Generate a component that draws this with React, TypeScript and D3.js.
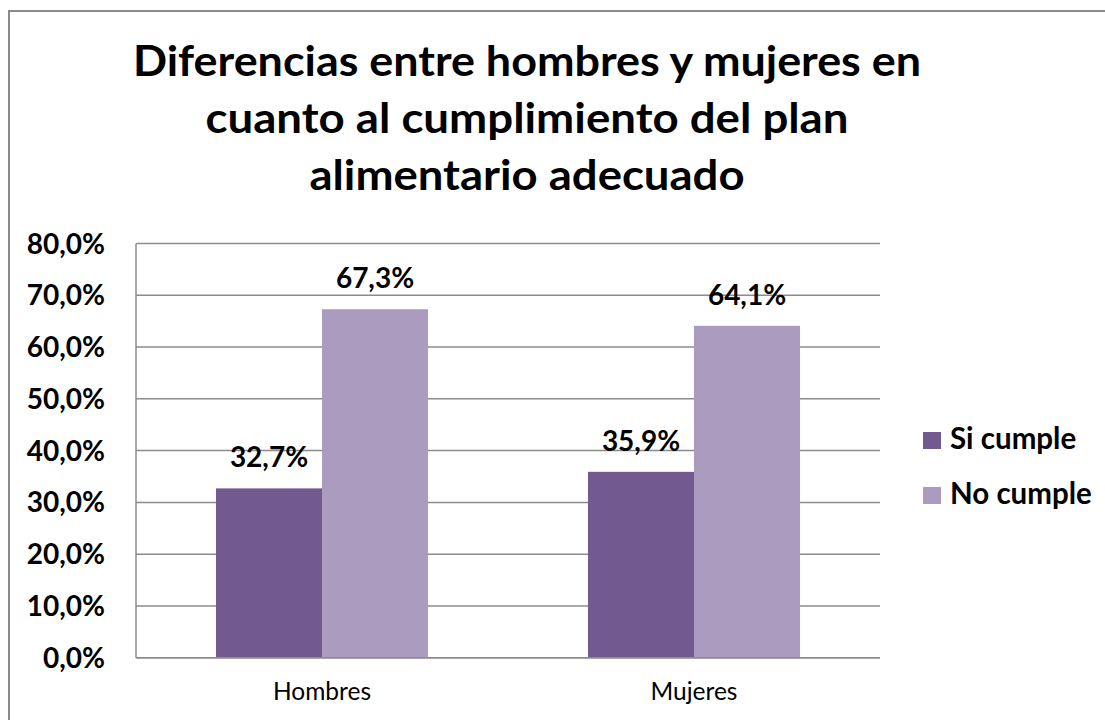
import React from "react";
import * as d3 from "d3";

const categories = ["Hombres", "Mujeres"];
const seriesNames = ["Si cumple", "No cumple"];
const siCumple = [0.327, 0.359];
const noCumple = [0.673, 0.641];
const yTicks = [0, 0.1, 0.2, 0.3, 0.4, 0.5, 0.6, 0.7, 0.8];
const titleLines = [
  "Diferencias entre hombres y mujeres en",
  "cuanto al cumplimiento del plan",
  "alimentario adecuado",
];
const colors = ["#725990", "#AA9BBF"];

const W = 1105;
const H = 720;
const FONT = "Lato, 'Open Sans', sans-serif";

const locale = d3.formatLocale({
  decimal: ",",
  thousands: ".",
  grouping: [3],
  currency: ["", "€"],
});
const fmt = locale.format(".1%");

export default function App() {
  const left = 136;
  const right = 880;
  const top = 243.5;
  const bottom = 657.7;

  const y = d3.scaleLinear().domain([0, 0.8]).range([bottom, top]);
  const x0 = d3
    .scaleBand<string>()
    .domain(categories)
    .range([left, right])
    .paddingInner(0.43)
    .paddingOuter(0.215);
  const x1 = d3
    .scaleBand<string>()
    .domain(seriesNames)
    .range([0, x0.bandwidth()]);

  const values = [siCumple, noCumple];
  const titleWidths = [788, 643, 435];
  const titleBaselines = [76, 133, 190];

  return (
    <svg
      width={W}
      height={H}
      style={{ position: "absolute", left: 0, top: 0, background: "#fff" }}
    >
      <rect x={0} y={0} width={W} height={H} fill="#fff" />
      <rect
        x={9}
        y={11}
        width={W + 20}
        height={H + 20}
        fill="none"
        stroke="#8a8a8a"
        strokeWidth={2}
      />
      {titleLines.map((t, i) => (
        <text
          key={i}
          x={527}
          y={titleBaselines[i]}
          textAnchor="middle"
          fontFamily={FONT}
          fontWeight={700}
          fontSize={42}
          fill="#000"
          textLength={titleWidths[i]}
          lengthAdjust="spacingAndGlyphs"
        >
          {t}
        </text>
      ))}

      {/* gridlines */}
      {yTicks.map((t) => (
        <line
          key={t}
          x1={left}
          x2={right}
          y1={y(t)}
          y2={y(t)}
          stroke="#8c8c8c"
          strokeWidth={1.5}
        />
      ))}
      <line x1={left} x2={left} y1={top} y2={bottom} stroke="#8c8c8c" strokeWidth={1.5} />

      {/* y tick labels */}
      {yTicks.map((t) => (
        <text
          key={"l" + t}
          x={105}
          y={y(t) + 10}
          textAnchor="end"
          fontFamily={FONT}
          fontWeight={700}
          fontSize={28}
          fill="#000"
        >
          {fmt(t)}
        </text>
      ))}

      {/* bars */}
      {categories.map((c, ci) =>
        seriesNames.map((s, si) => {
          const v = values[si][ci];
          const bx = (x0(c) as number) + (x1(s) as number);
          return (
            <g key={c + s}>
              <rect
                x={bx}
                y={y(v)}
                width={x1.bandwidth()}
                height={bottom - y(v)}
                fill={colors[si]}
              />
              <text
                x={bx + x1.bandwidth() / 2}
                y={y(v) - 21}
                textAnchor="middle"
                fontFamily={FONT}
                fontWeight={700}
                fontSize={28}
                fill="#000"
              >
                {fmt(v)}
              </text>
            </g>
          );
        })
      )}
      <line x1={left} x2={right} y1={bottom} y2={bottom} stroke="#8c8c8c" strokeWidth={1.5} />

      {/* category labels */}
      {categories.map((c) => (
        <text
          key={"c" + c}
          x={(x0(c) as number) + x0.bandwidth() / 2}
          y={700}
          textAnchor="middle"
          fontFamily={FONT}
          fontSize={24.5}
          fill="#000"
        >
          {c}
        </text>
      ))}

      {/* legend */}
      {seriesNames.map((s, i) => (
        <g key={"lg" + s}>
          <rect x={923} y={432 + i * 55} width={18} height={17} fill={colors[i]} />
          <text
            x={950}
            y={449 + i * 55}
            fontFamily={FONT}
            fontWeight={700}
            fontSize={29.5}
            fill="#000"
          >
            {s}
          </text>
        </g>
      ))}
    </svg>
  );
}
